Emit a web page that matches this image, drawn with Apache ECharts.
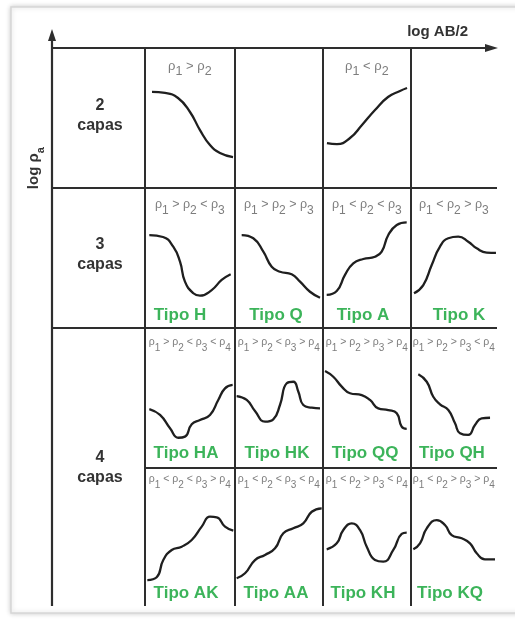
<!DOCTYPE html>
<html>
<head>
<meta charset="utf-8">
<title>Curvas de resistividad aparente</title>
<script src="https://cdn.jsdelivr.net/npm/echarts@6/dist/echarts.min.js"></script>
<style>
  html, body { margin: 0; padding: 0; background: #ffffff; }
  #chart { width: 515px; height: 622px; }
</style>
</head>
<body>
<div id="chart"></div>
<script>
// Sounding curves, each as [log AB/2, log rho_a] on a 0-100 scale per panel
const curve2Desc = [[7.8,68.6],[22.2,67.9],[36.7,64.3],[50,54.3],[61.1,41.4],[72.2,30.7],[83.3,25],[97.8,22.1]];
const curve2Asc = [[4.5,32.1],[15.9,31.4],[30.7,35.7],[44.3,45],[59.1,55.7],[73.9,65],[87.5,69.3],[95.5,71.4]];

const tipoH = [[4.8,66.4],[20,65],[31.4,58.1],[38.9,47.4],[44.4,33.1],[53.7,24.8],[61.1,23.1],[74.1,27.1],[85.2,34.3],[95.2,38.4]];
const tipoQ = [[7.6,66.4],[20.8,64.1],[32.2,54.5],[41.7,43.8],[51.1,40.2],[64.4,38.4],[73.9,33.1],[85.2,25.9],[96.6,21.6]];
const tipoA = [[4.2,23.6],[15.6,26.4],[25,37.9],[34.4,46.2],[45.8,49.3],[59.1,50.9],[66.7,54.5],[74.2,66.4],[83.8,73.6],[95.1,75.5]];
const tipoK = [[3.5,24.8],[14.3,30.7],[24.1,45],[33.7,58.1],[43.4,64.1],[55,65.2],[66.6,61.6],[76.4,56.9],[88,53.8],[98.8,53.6]];

const tipoHA = [[4.8,42.1],[16.7,37.9],[27.8,28.4],[37,21.6],[44.4,22.4],[51.9,31.2],[61.1,34.3],[72.2,37.9],[81.4,48.6],[88.9,56.9],[97.4,59.3]];
const tipoHK = [[1.9,51.4],[13.3,48.6],[22.7,40.7],[34.1,33.1],[43.5,34.8],[51.1,45],[58.8,60.5],[66.3,61.6],[72,54.5],[77.6,45],[87.2,43.1],[96.6,42.6]];
const tipoQQ = [[2.3,69.3],[11.7,65.2],[21.3,58.1],[30.7,53.4],[44,52.1],[53.4,48.6],[62.8,42.6],[74.2,41.4],[83.8,39.1],[89.4,29.5],[95.1,27.9]];
const tipoQH = [[8.5,66.9],[18.3,61.6],[25.9,50.9],[33.7,45.5],[43.4,41.4],[51.2,31.9],[57,24.8],[66.6,23.6],[74.4,30.7],[82.2,35.5],[91.9,35.9]];

const tipoAK = [[2.6,18.8],[13,20.8],[20.3,33.3],[29.7,40.6],[40.8,43],[51.9,47.8],[63,57.5],[72.2,64.7],[79.7,64.3],[88.9,57.5],[98.1,54.6]];
const tipoAA = [[1.9,20.1],[11.4,23.7],[22.7,33.3],[34.1,37],[45.5,41.8],[54.9,52.7],[66.3,56.3],[77.6,59.9],[87.2,68.3],[98.5,70.8]];
const tipoKH = [[4.2,41.1],[15.6,45.4],[23.1,55.1],[32.6,59.9],[42,55.1],[49.7,43],[59.1,33.3],[68.5,32.1],[79.9,40.6],[89.4,52.2],[95.1,53.1]];
const tipoKQ = [[2.7,41.1],[10.5,45.4],[18.3,56.3],[29.9,62.3],[39.5,58.7],[47.3,51.4],[59,49.1],[68.6,45.4],[76.4,38.2],[86,33.8],[97.7,33.8]];

// Row headers (number of layers)
const layerCounts = ['2', '3', '4'];
const layerWord = 'capas';

// Resistivity relations shown above each curve
const cond2 = ['ρ1 > ρ2', '', 'ρ1 < ρ2', ''];
const cond3 = ['ρ1 > ρ2 < ρ3', 'ρ1 > ρ2 > ρ3', 'ρ1 < ρ2 < ρ3', 'ρ1 < ρ2 > ρ3'];
const cond4a = ['ρ1 > ρ2 < ρ3 < ρ4', 'ρ1 > ρ2 < ρ3 > ρ4', 'ρ1 > ρ2 > ρ3 > ρ4', 'ρ1 > ρ2 > ρ3 < ρ4'];
const cond4b = ['ρ1 < ρ2 < ρ3 > ρ4', 'ρ1 < ρ2 < ρ3 < ρ4', 'ρ1 < ρ2 > ρ3 < ρ4', 'ρ1 < ρ2 > ρ3 > ρ4'];

// Curve type names
const tipos3 = ['Tipo H', 'Tipo Q', 'Tipo A', 'Tipo K'];
const tipos4a = ['Tipo HA', 'Tipo HK', 'Tipo QQ', 'Tipo QH'];
const tipos4b = ['Tipo AK', 'Tipo AA', 'Tipo KH', 'Tipo KQ'];

// ---- layout ----
const colX = [145, 235, 323, 411, 497];
const rowY = [48, 188, 328, 468, 606];
const axisX = 52;
const LINE = '#2e2e2e';
const GREEN = '#3cb45a';
const GRAY = '#7d7d7d';
const FONT = '"Liberation Sans", Arial, sans-serif';

const panels = [
  { row: 0, col: 0, data: curve2Desc },
  { row: 0, col: 2, data: curve2Asc },
  { row: 1, col: 0, data: tipoH }, { row: 1, col: 1, data: tipoQ },
  { row: 1, col: 2, data: tipoA }, { row: 1, col: 3, data: tipoK },
  { row: 2, col: 0, data: tipoHA }, { row: 2, col: 1, data: tipoHK },
  { row: 2, col: 2, data: tipoQQ }, { row: 2, col: 3, data: tipoQH },
  { row: 3, col: 0, data: tipoAK }, { row: 3, col: 1, data: tipoAA },
  { row: 3, col: 2, data: tipoKH }, { row: 3, col: 3, data: tipoKQ }
];

const grid = [], xAxis = [], yAxis = [], series = [];
panels.forEach((p, i) => {
  grid.push({
    left: colX[p.col], top: rowY[p.row],
    width: colX[p.col + 1] - colX[p.col], height: rowY[p.row + 1] - rowY[p.row]
  });
  xAxis.push({ type: 'value', gridIndex: i, min: 0, max: 100, show: false });
  yAxis.push({ type: 'value', gridIndex: i, min: 0, max: 100, show: false });
  series.push({
    type: 'line', xAxisIndex: i, yAxisIndex: i, data: p.data,
    smooth: 0.5, symbol: 'none', clip: false, silent: true,
    lineStyle: { color: '#1f1f1f', width: 2.3 }
  });
});

// rich text with subscripts after rho
function subRich(s) {
  let out = '', last = 0, m;
  const re = /ρ(\d)/g;
  while ((m = re.exec(s))) {
    if (m.index > last) out += '{a|' + s.slice(last, m.index) + '}';
    out += '{a|ρ}{b|' + m[1] + '}';
    last = re.lastIndex;
  }
  if (last < s.length) out += '{a|' + s.slice(last) + '}';
  return out + '{sp| }';
}
function condRichStyle(size) {
  return {
    a: { fontSize: size, fontFamily: FONT, fill: GRAY, lineHeight: size + 1, verticalAlign: 'top' },
    b: { fontSize: size - 0.5, fontFamily: FONT, fill: GRAY, lineHeight: size, verticalAlign: 'bottom' },
    sp: { fontSize: 1, lineHeight: size + 6 }
  };
}

const graphic = [];
// outer frame
graphic.push({
  type: 'rect', z: 0, shape: { x: 11, y: 7, width: 560, height: 606 },
  style: { fill: '#ffffff', stroke: '#d6d6d6', lineWidth: 1.5, shadowBlur: 5, shadowColor: 'rgba(0,0,0,0.18)' }
});
function seg(x1, y1, x2, y2, w) {
  graphic.push({ type: 'line', z: 5, shape: { x1, y1, x2, y2 }, style: { stroke: LINE, lineWidth: w || 2 } });
}
// axes with arrows
seg(axisX, 38, axisX, 606, 2.2);
seg(axisX, 48, 488, 48, 2.2);
graphic.push({ type: 'polygon', z: 5, shape: { points: [[axisX, 29], [axisX - 4, 41], [axisX + 4, 41]] }, style: { fill: LINE } });
graphic.push({ type: 'polygon', z: 5, shape: { points: [[498, 48], [485, 44], [485, 52]] }, style: { fill: LINE } });
// row separators
seg(axisX, rowY[1], colX[4], rowY[1]);
seg(axisX, rowY[2], colX[4], rowY[2]);
seg(colX[0], rowY[3], colX[4], rowY[3]);
// column separators
for (let c = 0; c < 4; c++) seg(colX[c], rowY[0], colX[c], rowY[4]);

// axis names
graphic.push({
  type: 'text', z: 6, style: { x: 468, y: 32, text: 'log AB/2', textAlign: 'right', textVerticalAlign: 'middle',
    font: 'bold 15px ' + FONT, fill: '#333' }
});
graphic.push({
  type: 'text', z: 6, x: 36, y: 168, rotation: Math.PI / 2,
  style: { x: 0, y: 0, text: '{m|log ρ}{s|a}{sp| }', textAlign: 'center', textVerticalAlign: 'middle',
    rich: {
      m: { font: 'bold 15px ' + FONT, fill: '#333', lineHeight: 16, verticalAlign: 'top' },
      s: { font: 'bold 11px ' + FONT, fill: '#333', lineHeight: 12, verticalAlign: 'bottom' },
      sp: { fontSize: 1, lineHeight: 20 }
    } }
});

// row headers
const headerY = [[106, 126], [245, 265], [458, 478]];
layerCounts.forEach((n, k) => {
  graphic.push({ type: 'text', z: 6, style: { x: 100, y: headerY[k][0], text: n, textAlign: 'center', textVerticalAlign: 'middle', font: 'bold 16px ' + FONT, fill: '#333' } });
  graphic.push({ type: 'text', z: 6, style: { x: 100, y: headerY[k][1], text: layerWord, textAlign: 'center', textVerticalAlign: 'middle', font: 'bold 16px ' + FONT, fill: '#333' } });
});

// relation labels
const condRows = [cond2, cond3, cond4a, cond4b];
const condY = [69, 207, 345, 482];
const condSize = [13, 12.5, 10.5, 10.5];
condRows.forEach((arr, r) => {
  arr.forEach((s, c) => {
    if (!s) return;
    graphic.push({
      type: 'text', z: 6,
      style: { x: (colX[c] + colX[c + 1]) / 2, y: condY[r], text: subRich(s), textAlign: 'center', textVerticalAlign: 'middle', rich: condRichStyle(condSize[r]) }
    });
  });
});

// type labels
const tipoRows = [tipos3, tipos4a, tipos4b];
const tipoY = [315, 453, 593];
const tipoDx = [[-10, -3, -4, 5], [-4, -2, -2, -2], [-4, -3, -4, -4]];
tipoRows.forEach((arr, r) => {
  arr.forEach((s, c) => {
    graphic.push({
      type: 'text', z: 6,
      style: { x: (colX[c] + colX[c + 1]) / 2 + tipoDx[r][c], y: tipoY[r], text: s, textAlign: 'center', textVerticalAlign: 'middle',
        font: 'bold 17px ' + FONT, fill: GREEN }
    });
  });
});

const chart = echarts.init(document.getElementById('chart'), null, { renderer: 'canvas' });
chart.setOption({
  animation: false,
  backgroundColor: '#ffffff',
  grid, xAxis, yAxis, series, graphic
});
</script>
</body>
</html>
